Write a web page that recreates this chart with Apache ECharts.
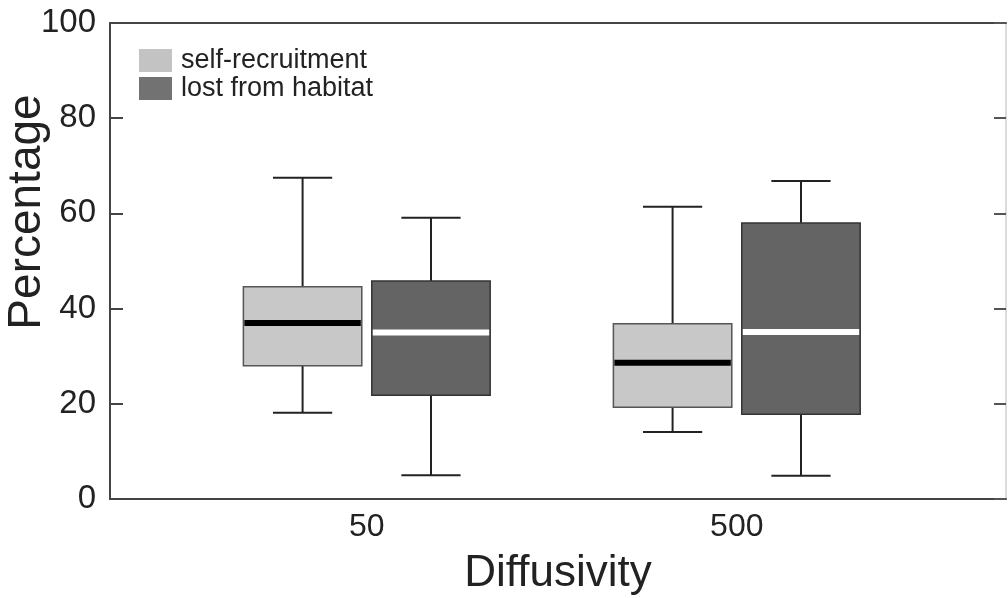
<!DOCTYPE html>
<html>
<head>
<meta charset="utf-8">
<script src="https://cdn.jsdelivr.net/npm/echarts@6/dist/echarts.min.js"></script>
<style>html,body{margin:0;padding:0;background:#fff}#c{width:1008px;height:598px}</style>
</head>
<body>
<div id="c"></div>
<script>
// ---- data ----
const categories = ['50', '500'];
const categoryPos = [0, 1];
const seriesNames = ['self-recruitment', 'lost from habitat'];
// [min, Q1, median, Q3, max]
const selfRecruitment = [
  [18.1, 28.0, 37.0, 44.6, 67.5],
  [14.1, 19.3, 28.6, 36.8, 61.4]
];
const lostFromHabitat = [
  [5.0, 21.8, 35.0, 45.8, 59.1],
  [4.9, 17.8, 35.1, 58.0, 66.8]
];
const yTicks = [0, 20, 40, 60, 80, 100];

// ---- style ----
const FONT = 'Liberation Sans, Arial, sans-serif';
const OFFSET = 0.1735, BOXW = 0.32, CAPW = 0.16;
const boxFill = ['#c8c8c8', '#646464'];
const boxStroke = ['#555555', '#333333'];
const medianColor = ['#000000', '#ffffff'];

function buildData(arr) {
  return arr.map((v, i) => [categoryPos[i]].concat(v));
}

function renderItem(params, api) {
  const si = params.seriesIndex;
  const x = api.value(0) + (si === 0 ? -OFFSET : OFFSET);
  const pMin = api.coord([x, api.value(1)]);
  const pQ1 = api.coord([x, api.value(2)]);
  const pMed = api.coord([x, api.value(3)]);
  const pQ3 = api.coord([x, api.value(4)]);
  const pMax = api.coord([x, api.value(5)]);
  const bw = api.size([BOXW, 0])[0];
  const cw = api.size([CAPW, 0])[0];
  const cx = pMin[0];
  const lineStyle = { stroke: '#222', lineWidth: 2 };
  return {
    type: 'group',
    children: [
      { type: 'line', shape: { x1: cx, y1: pMax[1], x2: cx, y2: pQ3[1] }, style: lineStyle },
      { type: 'line', shape: { x1: cx, y1: pQ1[1], x2: cx, y2: pMin[1] }, style: lineStyle },
      { type: 'line', shape: { x1: cx - cw / 2, y1: pMax[1], x2: cx + cw / 2, y2: pMax[1] }, style: lineStyle },
      { type: 'line', shape: { x1: cx - cw / 2, y1: pMin[1], x2: cx + cw / 2, y2: pMin[1] }, style: lineStyle },
      { type: 'rect', shape: { x: cx - bw / 2, y: pQ3[1], width: bw, height: pQ1[1] - pQ3[1] },
        style: { fill: boxFill[si], stroke: boxStroke[si], lineWidth: 1.5 } },
      { type: 'line', shape: { x1: cx - bw / 2 + 1, y1: pMed[1], x2: cx + bw / 2 - 1, y2: pMed[1] },
        style: { stroke: medianColor[si], lineWidth: 6 } }
    ]
  };
}

const chart = echarts.init(document.getElementById('c'), null, { renderer: 'canvas' });
chart.setOption({
  backgroundColor: '#fff',
  animation: false,
  grid: { left: 110, right: 2, top: 23, bottom: 99, containLabel: false, outerBoundsMode: 'none' },
  legend: {
    left: 139, top: 47, orient: 'vertical', itemWidth: 33, itemHeight: 23, itemGap: 1,
    icon: 'rect', padding: 0,
    textStyle: { fontFamily: FONT, fontSize: 27, color: '#222', padding: [0, 0, 0, 4] },
    data: [
      { name: seriesNames[0], itemStyle: { color: '#c3c3c3', borderWidth: 0 } },
      { name: seriesNames[1], itemStyle: { color: '#727272', borderWidth: 0 } }
    ]
  },
  xAxis: [
    {
      type: 'value', min: -0.694, max: 1.7276, position: 'bottom',
      name: 'Diffusivity', nameLocation: 'middle', nameGap: 53,
      nameTextStyle: { fontFamily: FONT, fontSize: 44, color: '#222' },
      axisLine: { show: true, onZero: false, lineStyle: { color: '#444', width: 2 } },
      axisTick: { show: false },
      splitLine: { show: false },
      axisLabel: {
        customValues: categoryPos,
        formatter: v => categories[categoryPos.indexOf(Math.round(v))] || '',
        fontFamily: FONT, fontSize: 32, color: '#222', margin: 12
      }
    },
    {
      type: 'value', min: -0.694, max: 1.7276, position: 'top',
      axisLine: { show: true, onZero: false, lineStyle: { color: '#444', width: 2 } },
      axisTick: { show: false }, axisLabel: { show: false }, splitLine: { show: false }
    }
  ],
  yAxis: [
    {
      type: 'value', min: 0, max: 100, interval: 20, position: 'left',
      name: 'Percentage', nameLocation: 'middle', nameGap: 60, nameMoveOverlap: false,
      nameTextStyle: { fontFamily: FONT, fontSize: 46, color: '#222', padding: [0, 0, 0, 98] },
      axisLine: { show: true, onZero: false, lineStyle: { color: '#444', width: 2 } },
      axisTick: { show: true, inside: true, length: 13, lineStyle: { color: '#444', width: 2 } },
      splitLine: { show: false },
      axisLabel: {
        customValues: yTicks,
        fontFamily: FONT, fontSize: 33, color: '#222', margin: 14
      }
    },
    {
      type: 'value', min: 0, max: 100, interval: 20, position: 'right',
      axisLine: { show: true, onZero: false, lineStyle: { color: '#d0d0d0', width: 1.5 } },
      axisTick: { show: true, inside: true, length: 12, lineStyle: { color: '#555', width: 2 } },
      axisLabel: { show: false }, splitLine: { show: false }
    }
  ],
  series: [
    { name: seriesNames[0], type: 'custom', renderItem, itemStyle: { color: '#c3c3c3' },
      encode: { x: 0, y: [1, 2, 3, 4, 5] }, data: buildData(selfRecruitment) },
    { name: seriesNames[1], type: 'custom', renderItem, itemStyle: { color: '#727272' },
      encode: { x: 0, y: [1, 2, 3, 4, 5] }, data: buildData(lostFromHabitat) }
  ]
});
</script>
</body>
</html>
